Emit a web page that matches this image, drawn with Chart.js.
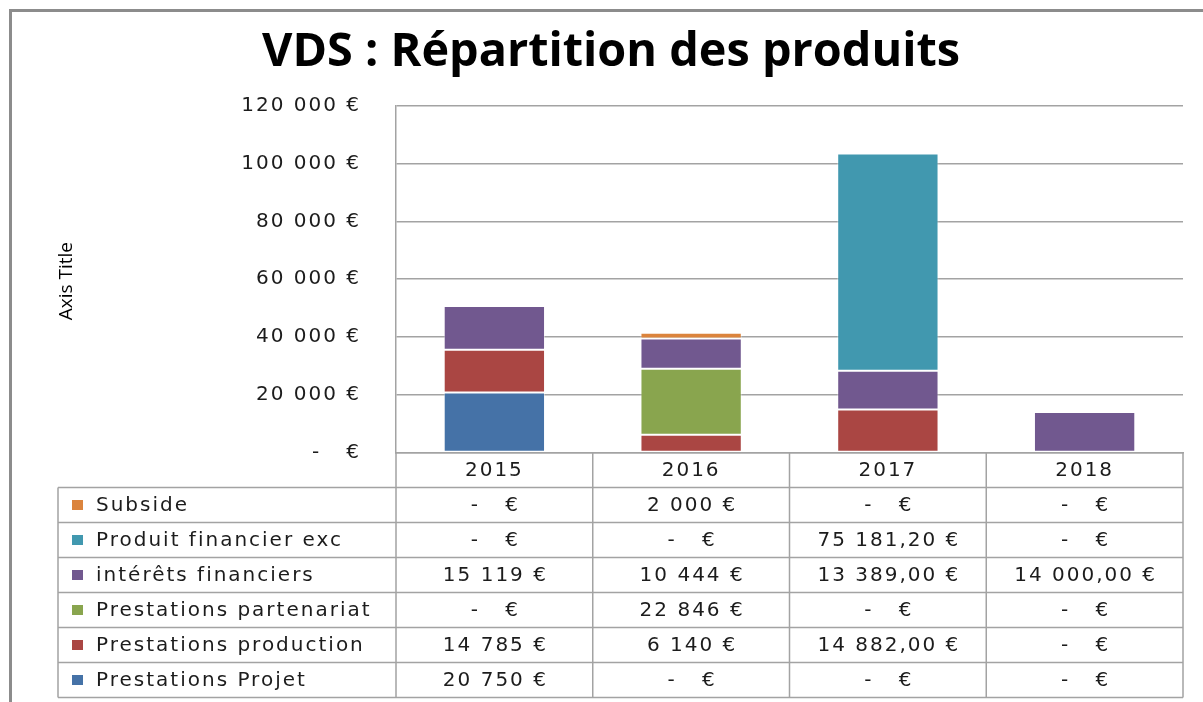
<!DOCTYPE html>
<html>
<head>
<meta charset="utf-8">
<script src="https://cdn.jsdelivr.net/npm/chart.js@4.4.1/dist/chart.umd.min.js"></script>
<style>
  html, body { margin: 0; padding: 0; background: #fff; }
  #wrap { position: relative; width: 1203px; height: 702px; overflow: hidden; }
  #frame { position: absolute; left: 9px; top: 9px; width: 1300px; height: 800px;
           border-left: 3px solid #8c8c8c; border-top: 3px solid #8c8c8c; pointer-events: none; }
</style>
</head>
<body>
<div id="wrap">
  <canvas id="chart" width="1203" height="702"></canvas>
  <div id="frame"></div>
</div>
<script>
// data
const years = ['2015', '2016', '2017', '2018']
const decimals = [0, 0, 2, 2]   // number format used by each year column
const yTicks = [0, 20000, 40000, 60000, 80000, 100000, 120000]

const seriesNames = [
    'Prestations Projet',
    'Prestations production',
    'Prestations partenariat',
    'intérêts financiers',
    'Produit financier exc',
    'Subside'
]
const prestationsProjet = [20750, 0, 0, 0]
const prestationsProduction = [14785, 6140, 14882, 0]
const prestationsPartenariat = [0, 22846, 0, 0]
const interetsFinanciers = [15119, 10444, 13389, 14000]
const produitFinancierExc = [0, 0, 75181.20, 0]
const subside = [0, 2000, 0, 0]
const seriesValues = [prestationsProjet, prestationsProduction, prestationsPartenariat,
    interetsFinanciers, produitFinancierExc, subside]

const chartTitle = 'VDS : Répartition des produits'
const axisTitle = 'Axis Title'

const colors = ['#4572A7', '#AA4643', '#89A54E', '#71588F', '#4198AF', '#DB843D']
const lineColor = '#a3a3a3'
const textColor = '#1c1c1c'

// french currency format, zero shown as accounting dash
function euro(v, d) {
    if (v === 0) return '-\u00a0\u00a0\u00a0€'
    var parts = v.toFixed(d).split('.')
    var int = parts[0].replace(/\B(?=(\d{3})+(?!\d))/g, '\u00a0')
    return int + (parts[1] ? ',' + parts[1] : '') + '\u00a0€'
}

// pick a font size so a text fills a given width
function fitSize(text, weight, family, target) {
    var c = document.createElement('canvas').getContext('2d')
    c.font = weight + ' 100px ' + family
    return Math.round(100 * target / c.measureText(text).width * 10) / 10
}

const titleFamily = '"Open Sans", "Noto Sans", sans-serif'
const bodyFamily = '"DejaVu Sans", Verdana, sans-serif'
const titleSize = fitSize(chartTitle, 'bold', titleFamily, 698)
const bodySize = 20
const bodySpacing = '2px'   // the original text is drawn wide

const plotTop = 105.7
const plotBottom = 452.5
const plotLeft = 396
const padLeft = 40

// wide text for the axis ticks
const spacing = {
    id: 'spacing',
    beforeDraw(chart) { chart.ctx.letterSpacing = bodySpacing },
    afterDraw(chart) { chart.ctx.letterSpacing = '0px' }
}

// chart title and axis title, drawn without the wide spacing
const titles = {
    id: 'titles',
    afterDraw(chart) {
        var ctx = chart.ctx
        var area = chart.chartArea
        ctx.save()
        ctx.letterSpacing = '0px'
        ctx.fillStyle = '#000'
        ctx.textAlign = 'center'
        ctx.textBaseline = 'middle'
        ctx.font = 'bold ' + titleSize + 'px ' + titleFamily
        ctx.fillText(chartTitle, 611, 53)
        ctx.translate(67, (area.top + area.bottom) / 2 + 2)
        ctx.rotate(-Math.PI / 2)
        ctx.font = '19px "Open Sans", sans-serif'
        ctx.fillText(axisTitle, 0, 0)
        ctx.restore()
    }
}

const dataTable = {
    id: 'dataTable',
    afterDraw(chart) {
        var ctx = chart.ctx
        var area = chart.chartArea
        var x = chart.scales.x
        var step = x.getPixelForValue(1) - x.getPixelForValue(0)
        var rowH = 35
        var tableLeft = 58
        var headBottom = area.bottom + rowH
        var nRows = seriesNames.length
        var bottom = headBottom + rowH * nRows

        ctx.save()
        ctx.strokeStyle = lineColor
        ctx.lineWidth = 1.5
        ctx.beginPath()
        for (var r = 0; r <= nRows; r++) {
            var y = headBottom + r * rowH
            ctx.moveTo(tableLeft, y)
            ctx.lineTo(area.right, y)
        }
        ctx.moveTo(tableLeft, headBottom)
        ctx.lineTo(tableLeft, bottom)
        for (var i = 0; i <= years.length; i++) {
            var cx = x.getPixelForValue(0) - step / 2 + i * step
            ctx.moveTo(cx, area.bottom)
            ctx.lineTo(cx, bottom)
        }
        ctx.stroke()

        ctx.font = bodySize + 'px ' + bodyFamily
        ctx.letterSpacing = bodySpacing
        ctx.textBaseline = 'middle'
        // top row is the last series (same order as the stack)
        for (var r = 0; r < nRows; r++) {
            var s = nRows - 1 - r
            var cy = headBottom + r * rowH + rowH / 2
            ctx.fillStyle = colors[s]
            ctx.fillRect(72, cy - 5, 11, 10)
            ctx.fillStyle = textColor
            ctx.textAlign = 'left'
            ctx.fillText(seriesNames[s], 96, cy + 1)
            ctx.textAlign = 'center'
            for (var i = 0; i < years.length; i++) {
                ctx.fillText(euro(seriesValues[s][i], decimals[i]), x.getPixelForValue(i) + 1, cy + 1)
            }
        }
        ctx.restore()
    }
}

const ctx = document.getElementById('chart')
new Chart(ctx, {
    type: 'bar',
    data: {
        labels: years,
        datasets: seriesNames.map(function (name, i) {
            return {
                label: name,
                data: seriesValues[i],
                backgroundColor: colors[i],
                borderColor: 'rgba(255,255,255,0.45)',
                borderWidth: 1,
                borderSkipped: false,
                categoryPercentage: 1,
                barPercentage: 0.515
            }
        })
    },
    options: {
        responsive: false,
        animation: false,
        layout: {padding: {left: padLeft, right: 20, top: plotTop, bottom: 0}},
        plugins: {
            legend: {display: false},
            tooltip: {enabled: false},
            title: {display: false}
        },
        scales: {
            x: {
                stacked: true,
                grid: {display: false, drawTicks: false},
                border: {display: true, color: lineColor, width: 1.5},
                ticks: {color: textColor, font: {family: bodyFamily, size: bodySize}, padding: 6},
                afterFit: function (s) { s.height = 702 - plotBottom }
            },
            y: {
                stacked: true,
                min: 0,
                max: 120000,
                afterBuildTicks: function (s) {
                    s.ticks = yTicks.map(function (v) { return {value: v} })
                },
                grid: {color: lineColor, lineWidth: 1.5, drawTicks: false},
                border: {display: true, color: lineColor, width: 1.5},
                ticks: {
                    color: textColor,
                    font: {family: bodyFamily, size: bodySize},
                    padding: 35,
                    callback: function (v) { return euro(v, 0) }
                },
                afterFit: function (s) { s.width = plotLeft - padLeft }
            }
        }
    },
    plugins: [spacing, titles, dataTable]
})
</script>
</body>
</html>
